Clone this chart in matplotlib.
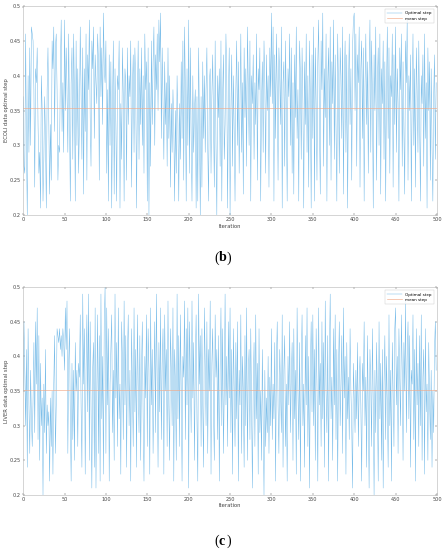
import matplotlib

matplotlib.use("Agg")
import matplotlib.pyplot as plt
import numpy as np

# optimal step per iteration, in hundredths
ecoli_step = [
    37, 27, 26, 46, 30, 20, 40, 29, 44, 30, 47, 46, 45, 38, 24, 41, 39, 44, 33, 26, 29, 21, 40, 35, 22, 28, 37, 31, 21, 38, 44, 33, 23, 33, 25, 45, 41, 47, 32, 44, 46, 38, 25, 30, 29, 41, 48, 32, 39, 29,
    48, 35, 44, 38, 29, 46, 34, 22, 39, 44, 28, 46, 37, 22, 45, 30, 41, 26, 33, 47, 37, 28, 44, 23, 41, 32, 46, 25, 43, 38, 48, 34, 27, 45, 41, 47, 31, 43, 39, 36, 46, 42, 25, 47, 37, 44, 33, 49, 41, 39,
    45, 26, 38, 22, 43, 30, 42, 21, 36, 45, 23, 41, 33, 22, 40, 38, 45, 21, 36, 28, 44, 37, 22, 41, 39, 25, 44, 33, 40, 37, 45, 24, 38, 43, 29, 44, 39, 21, 36, 45, 28, 41, 33, 44, 30, 40, 26, 46, 38, 42,
    22, 44, 20, 39, 27, 45, 33, 42, 47, 30, 43, 38, 46, 35, 48, 42, 49, 31, 44, 36, 28, 42, 33, 39, 27, 44, 31, 40, 24, 36, 29, 38, 33, 22, 35, 26, 40, 33, 22, 36, 28, 42, 31, 45, 25, 47, 38, 22, 41, 30,
    48, 26, 44, 31, 22, 40, 29, 35, 38, 21, 37, 22, 44, 33, 20, 37, 24, 42, 31, 40, 29, 38, 44, 30, 22, 39, 41, 26, 37, 43, 33, 24, 45, 30, 20, 40, 34, 41, 27, 45, 22, 37, 43, 28, 33, 46, 40, 21, 37, 44,
    20, 35, 43, 27, 40, 32, 22, 38, 45, 30, 42, 26, 36, 46, 29, 39, 23, 44, 34, 41, 27, 47, 38, 30, 45, 22, 40, 36, 43, 28, 39, 33, 46, 25, 41, 38, 44, 22, 36, 42, 29, 45, 39, 26, 43, 35, 40, 24, 44, 37,
    49, 36, 47, 22, 43, 31, 46, 38, 25, 44, 40, 33, 47, 21, 39, 42, 27, 45, 35, 22, 41, 37, 46, 30, 44, 26, 39, 23, 43, 34, 47, 31, 38, 22, 45, 40, 28, 44, 36, 21, 42, 33, 46, 29, 40, 24, 45, 37, 21, 43,
    31, 47, 22, 44, 36, 25, 42, 48, 33, 23, 45, 38, 49, 27, 41, 34, 46, 22, 39, 44, 30, 47, 25, 42, 36, 48, 28, 43, 33, 22, 46, 38, 26, 44, 40, 31, 47, 23, 39, 45, 29, 43, 21, 37, 46, 33, 41, 25, 44, 48,
    49, 35, 46, 27, 43, 39, 47, 24, 41, 45, 31, 44, 22, 38, 46, 33, 42, 26, 40, 48, 29, 45, 37, 21, 43, 35, 47, 25, 39, 44, 30, 46, 23, 41, 36, 45, 28, 42, 22, 38, 47, 31, 44, 26, 40, 37, 46, 24, 43, 33,
    47, 29, 41, 36, 22, 44, 38, 46, 27, 42, 33, 23, 45, 39, 48, 25, 40, 35, 43, 22, 37, 46, 30, 41, 24, 44, 38, 29, 45, 33, 22, 40, 36, 43, 27, 46, 31, 39, 21, 44, 35, 42, 25, 41, 30, 22, 37, 43, 28, 39,
]
liver_step = [
    35, 45, 38, 30, 41, 24, 44, 33, 26, 38, 31, 27, 34, 42, 29, 45, 36, 47, 28, 43, 25, 39, 30, 34, 20, 36, 29, 41, 26, 33, 30, 32, 22, 34, 27, 35, 23, 36, 43, 26, 33, 44, 43, 42, 44, 41, 43, 40, 44, 42,
    38, 47, 41, 48, 26, 39, 44, 31, 22, 39, 28, 38, 25, 42, 35, 38, 27, 39, 37, 46, 33, 24, 49, 36, 44, 23, 38, 46, 32, 49, 25, 45, 33, 21, 38, 42, 24, 47, 21, 35, 46, 26, 43, 22, 49, 31, 40, 23, 45, 50,
    26, 47, 33, 44, 22, 36, 41, 46, 29, 38, 25, 49, 34, 42, 27, 47, 31, 36, 23, 45, 39, 28, 48, 33, 43, 24, 40, 46, 30, 38, 22, 44, 35, 27, 47, 32, 41, 24, 46, 36, 29, 43, 25, 38, 45, 31, 22, 40, 34, 46,
    27, 44, 38, 23, 47, 33, 41, 26, 36, 45, 29, 49, 37, 24, 42, 32, 47, 28, 39, 44, 23, 46, 35, 41, 27, 48, 33, 25, 44, 38, 30, 47, 22, 41, 36, 25, 49, 31, 43, 27, 46, 35, 22, 40, 37, 48, 28, 44, 33, 47,
    21, 45, 37, 29, 48, 34, 42, 25, 39, 46, 31, 22, 49, 36, 43, 27, 44, 33, 24, 47, 38, 30, 45, 26, 41, 35, 48, 23, 39, 44, 32, 25, 46, 37, 41, 28, 43, 22, 38, 47, 30, 44, 26, 35, 49, 33, 40, 27, 45, 34,
    47, 29, 41, 23, 44, 36, 27, 42, 31, 45, 22, 38, 33, 46, 26, 40, 35, 24, 43, 30, 47, 25, 38, 41, 28, 44, 33, 21, 36, 42, 27, 46, 31, 39, 23, 44, 29, 35, 25, 41, 30, 20, 38, 27, 34, 29, 40, 26, 37, 30,
    44, 28, 36, 31, 42, 22, 39, 45, 33, 26, 41, 35, 29, 46, 24, 38, 43, 27, 36, 22, 40, 33, 45, 29, 37, 42, 25, 44, 31, 38, 23, 47, 35, 28, 42, 22, 39, 46, 30, 36, 24, 43, 33, 47, 27, 40, 21, 38, 45, 32,
    46, 30, 41, 25, 44, 36, 22, 47, 33, 39, 27, 45, 31, 42, 24, 48, 35, 29, 43, 22, 40, 49, 31, 37, 25, 44, 33, 46, 28, 41, 22, 38, 45, 30, 36, 43, 26, 47, 34, 40, 23, 42, 31, 37, 28, 44, 35, 30, 21, 39,
    34, 29, 38, 31, 42, 27, 36, 40, 33, 22, 39, 35, 45, 30, 37, 24, 43, 32, 21, 41, 36, 27, 44, 33, 20, 38, 29, 42, 34, 22, 45, 31, 39, 25, 41, 21, 36, 43, 28, 40, 33, 24, 46, 30, 38, 22, 42, 35, 27, 44,
    47, 33, 40, 26, 44, 37, 30, 46, 38, 25, 42, 35, 48, 29, 40, 45, 31, 43, 24, 38, 36, 46, 28, 41, 22, 44, 33, 39, 27, 43, 30, 46, 25, 37, 41, 23, 44, 32, 36, 25, 42, 34, 28, 38, 24, 35, 29, 41, 45, 38,
]
ecoli_mean = 0.353
liver_mean = 0.351

y_ticks = [0.2, 0.25, 0.3, 0.35, 0.4, 0.45, 0.5]
y_tick_labels = ["0.2", "0.25", "0.3", "0.35", "0.4", "0.45", "0.5"]
x_ticks = list(range(0, 501, 50))

panels = [
    ("ECOLI data optimal step", ecoli_step, ecoli_mean, "b"),
    ("LIVER data optimal step", liver_step, liver_mean, "c"),
]
# axes boxes in figure fractions: left, bottom, width, height
boxes = [(0.052, 0.609, 0.930, 0.380), (0.052, 0.100, 0.930, 0.378)]
label_y = [0.531, 0.016]

fig = plt.figure(figsize=(4.45, 5.5), dpi=100)

for (ylab, vals, mean, tag), box, ly in zip(panels, boxes, label_y):
    ax = fig.add_axes(box)
    y = np.array(vals) / 100.0
    x = np.arange(len(y))
    ax.plot(x, y, color="#74bae8", lw=0.35, label="Optimal step")
    ax.axhline(mean, color="#f2aa88", lw=0.45, label="mean step")
    ax.set_xlim(0, 500)
    ax.set_ylim(0.2, 0.5)
    ax.set_xticks(x_ticks)
    ax.set_yticks(y_ticks)
    ax.set_yticklabels(y_tick_labels)
    ax.tick_params(direction="in", length=1.5, width=0.3, labelsize=3.6,
                   colors="#444444", pad=1.5, top=True, right=True)
    for s in ax.spines.values():
        s.set_color("#b5b5b5")
        s.set_linewidth(0.4)
    ax.set_xlabel("Iteration", fontsize=3.8, color="#444444", labelpad=1)
    ax.set_ylabel(ylab, fontsize=3.8, color="#444444", labelpad=1)
    leg = ax.legend(loc="upper right", fontsize=3.0, frameon=True,
                    fancybox=False, borderpad=0.5, handlelength=3.5,
                    labelspacing=0.3, borderaxespad=0.8)
    leg.get_frame().set_linewidth(0.3)
    leg.get_frame().set_edgecolor("#bbbbbb")
    fig.text(0.492, ly, "(", fontsize=10, family="Liberation Serif",
             ha="right", va="center")
    fig.text(0.492, ly, tag, fontsize=10, family="Liberation Serif",
             weight="bold", ha="left", va="center")
    fig.text(0.492 + 0.016, ly, ")", fontsize=10, family="Liberation Serif",
             ha="left", va="center")

fig.savefig("out.png", dpi=100)
